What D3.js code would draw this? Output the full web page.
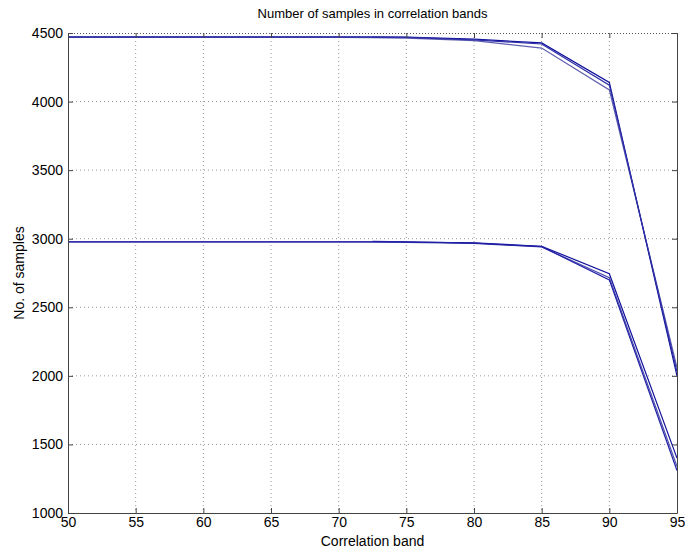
<!DOCTYPE html>
<html><head><meta charset="utf-8">
<script src="https://cdn.jsdelivr.net/npm/d3@7"></script>
<style>body{margin:0;background:#fff}text{font-family:Arial,"Liberation Sans",sans-serif}</style>
</head><body><svg id="c" width="685" height="549"></svg>
<script>
const xTicks = [50,55,60,65,70,75,80,85,90,95];
const yTicks = [1000,1500,2000,2500,3000,3500,4000,4500];
const xFull = [50,55,60,65,70,72.5,75,80,85,90,95];
const xPart = [72.5,75,80,85,90,95];
const upper1 = [4472,4472,4472,4472,4472,4472,4470,4455,4428,4140,2000];
const upper2 = [4468,4468,4468,4468,4468,4467,4462,4445,4390,4085,2060];
const upper3 = [4470,4468,4450,4420,4120,2030];
const lower1 = [2978,2978,2978,2978,2978,2978,2976,2970,2945,2745,1400];
const lower2 = [2975,2975,2975,2975,2975,2975,2974,2965,2940,2715,1340];
const lower3 = [2980,2978,2968,2942,2700,1310];

const svg = d3.select("#c");
const L=68,R=677,T=33,B=513;
const x = d3.scaleLinear().domain([50,95]).range([L,R]);
const y = d3.scaleLinear().domain([1000,4500]).range([B,T]);

const g = svg.append("g");
g.selectAll(".gx").data(xTicks.slice(1,-1)).join("line")
 .attr("x1",d=>x(d)).attr("x2",d=>x(d)).attr("y1",T).attr("y2",B)
 .attr("stroke","#999").attr("stroke-dasharray","1,3");
g.selectAll(".gy").data(yTicks.slice(1,-1)).join("line")
 .attr("y1",d=>y(d)).attr("y2",d=>y(d)).attr("x1",L).attr("x2",R)
 .attr("stroke","#999").attr("stroke-dasharray","1,3");
g.append("line").attr("x1",L).attr("x2",R).attr("y1",T+0.5).attr("y2",T+0.5)
 .attr("stroke","#555").attr("stroke-dasharray","1,2");

const line = (xs)=>d3.line().x((d,i)=>x(xs[i])).y(d=>y(d));
const series = [
 {xs:xFull,v:upper2,c:"#6060b0"},
 {xs:xFull,v:upper1,c:"#10109c"},
 {xs:xPart,v:upper3,c:"#3030a8"},
 {xs:xFull,v:lower2,c:"#5050b0"},
 {xs:xFull,v:lower1,c:"#10109c"},
 {xs:xPart,v:lower3,c:"#2020a8"}
];
svg.append("g").selectAll("path").data(series).join("path")
 .attr("d",s=>line(s.xs)(s.v)).attr("fill","none")
 .attr("stroke",s=>s.c).attr("stroke-width",1.2);

const fmt = d3.format("d");
const ax = svg.append("g").attr("transform",`translate(0,${B})`)
 .call(d3.axisBottom(x).tickValues(xTicks).tickFormat(fmt).tickSize(-5).tickPadding(4).tickSizeOuter(0));
const ay = svg.append("g").attr("transform",`translate(${L},0)`)
 .call(d3.axisLeft(y).tickValues(yTicks).tickFormat(fmt).tickSize(-5).tickPadding(5).tickSizeOuter(0));
const ayr = svg.append("g").attr("transform",`translate(${R},0)`)
 .call(d3.axisRight(y).tickValues(yTicks).tickSize(-5).tickFormat("").tickSizeOuter(0));
const axt = svg.append("g").attr("transform",`translate(0,${T})`)
 .call(d3.axisTop(x).tickValues(xTicks).tickSize(-5).tickFormat("").tickSizeOuter(0));
[ax,ay,ayr,axt].forEach(a=>{
  a.selectAll("path,line").attr("stroke","#444");
  a.selectAll("text").attr("fill","#000").style("font-size","14px");
});
axt.select("path").remove();

svg.append("text").attr("x",(L+R)/2).attr("y",18).attr("text-anchor","middle")
 .style("font-size","13px").text("Number of samples in correlation bands");
svg.append("text").attr("x",(L+R)/2).attr("y",546).attr("text-anchor","middle")
 .style("font-size","14px").text("Correlation band");
svg.append("text").attr("transform",`translate(24,${(T+B)/2}) rotate(-90)`).attr("text-anchor","middle")
 .style("font-size","14px").text("No. of samples");
</script></body></html>
